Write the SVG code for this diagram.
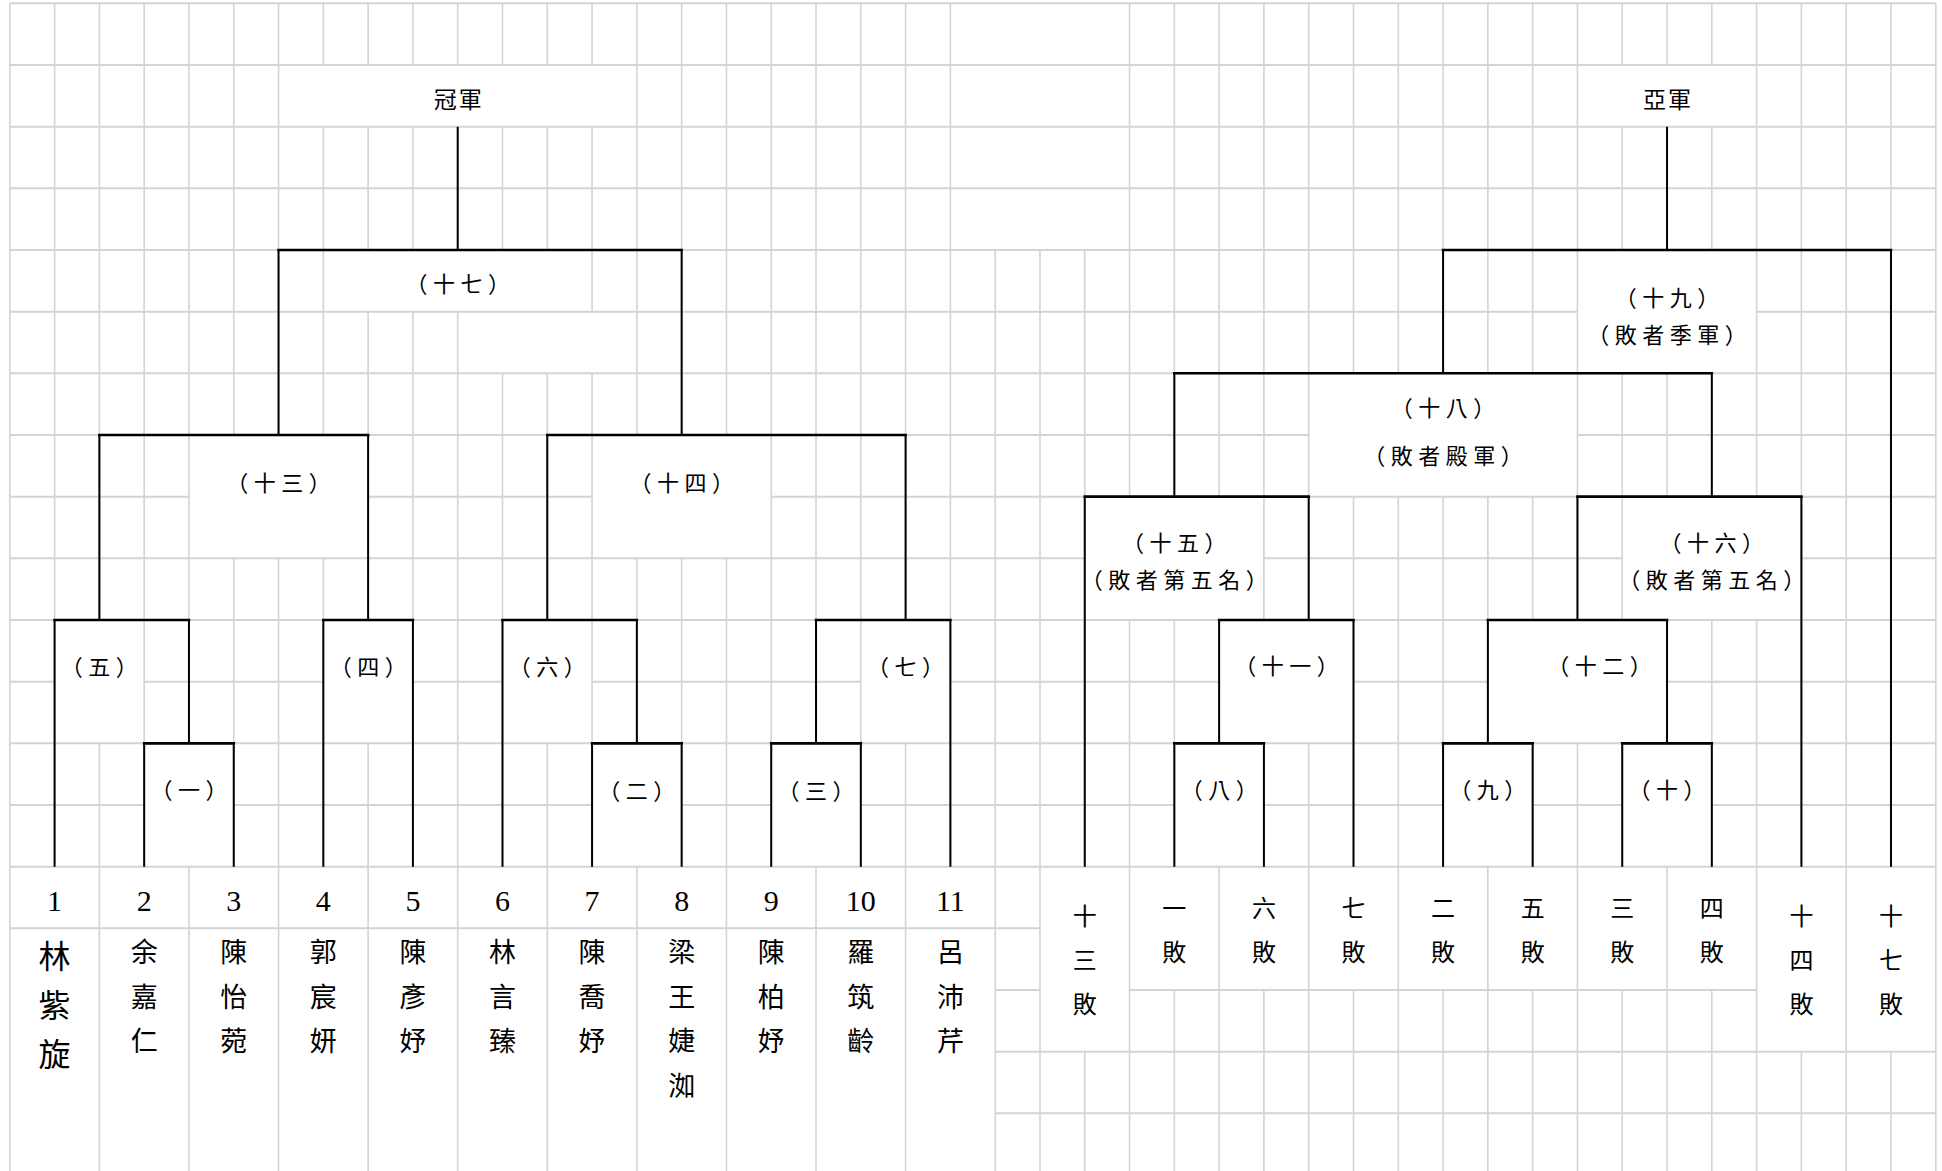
<svg xmlns="http://www.w3.org/2000/svg" width="1942" height="1171" viewBox="0 0 1942 1171">
<style>
.gv{stroke:#d4d4d4;stroke-width:1.6;fill:none}
.gh{stroke:#d4d4d4;stroke-width:2;fill:none}
.cv{stroke:#000;stroke-width:2;fill:none}
.ch{stroke:#000;stroke-width:2.6;fill:none;stroke-linecap:square}
text{font-family:'Liberation Serif','Noto Sans CJK TC',serif;text-anchor:middle;dominant-baseline:central;fill:#000}
.lab{font-size:22px;letter-spacing:5.5px}
.ttl{font-size:23px;letter-spacing:2px}
.num{font-size:30px}
.nm{font-size:27px}
.nmb{font-size:32px}
.ls{font-size:24px}
</style>
<rect width="1942" height="1171" fill="#fff"/>
<g id="grid" transform="translate(9.8 3.3) scale(44.79 61.67)">
<path class="gv" vector-effect="non-scaling-stroke" d="M0 0V19M1 0V14M2 0V10M2 12V19M3 0V14M4 0V12M4 14V19M5 0V7M5 9V14M6 0V7M6 9V19M7 0V1M7 2V7M7 9V14M8 0V1M8 2V4M8 5V10M8 12V19M9 0V1M9 2V4M9 5V14M10 0V1M10 2V4M10 5V19M11 0V1M11 2V4M11 6V14M12 0V1M12 2V4M12 6V10M12 12V19M13 0V1M13 2V5M13 6V14M14 0V7M14 9V12M14 14V19M15 0V7M15 9V14M16 0V7M16 9V19M17 0V14M18 0V12M18 14V19M19 0V14M20 0V10M20 12V19M21 0V14M22 4V19M23 4V19M24 4V14M24 17V19M25 0V8M25 10V19M26 0V8M26 10V14M26 16V19M27 0V8M27 10V12M27 14V19M28 0V10M28 12V14M28 16V19M29 0V10M29 12V19M30 0V6M30 8V14M30 16V19M31 0V6M31 8V19M32 0V6M32 8V14M32 16V19M33 0V6M33 8V12M33 14V19M34 0V6M34 8V10M34 12V14M34 16V19M35 0V10M35 12V19M36 0V1M36 2V4M36 6V10M36 12V14M36 16V19M37 0V1M37 2V4M37 6V8M37 10V12M37 14V19M38 0V1M38 2V4M38 6V8M38 10V14M38 16V19M39 0V8M39 10V19M40 0V14M40 17V19M41 0V19M42 0V14M42 17V19M43 0V19"/>
<path class="gh" vector-effect="non-scaling-stroke" d="M0 0H43M0 1H43M0 2H43M0 3H43M0 4H43M0 5H35M39 5H43M0 6H43M0 7H29M35 7H43M0 8H4M8 8H13M17 8H43M0 9H24M28 9H36M40 9H43M0 10H43M0 11H1M3 11H7M9 11H11M13 11H19M21 11H27M30 11H33M37 11H43M0 12H43M0 13H3M5 13H13M15 13H17M19 13H26M28 13H32M34 13H36M38 13H43M0 14H43M0 15H23M22 16H23M25 16H39M22 17H43M22 18H43"/>
</g>
<g id="connectors" transform="translate(9.8 3.3) scale(44.79 61.67)">
<path class="cv" vector-effect="non-scaling-stroke" d="M10 2V4M6 4V7M15 4V7M2 7V10M8 7V10M12 7V10M20 7V10M1 10V14M4 10V12M3 12V14M5 12V14M7 10V14M9 10V14M11 10V14M14 10V12M13 12V14M15 12V14M18 10V12M21 10V14M17 12V14M19 12V14M37 2V4M32 4V6M42 4V14M26 6V8M38 6V8M24 8V14M29 8V10M35 8V10M40 8V14M27 10V12M30 10V14M26 12V14M28 12V14M33 10V12M37 10V12M32 12V14M34 12V14M36 12V14M38 12V14"/>
<path class="ch" vector-effect="non-scaling-stroke" d="M6 4H15M2 7H8M12 7H20M1 10H4M7 10H9M11 10H14M18 10H21M3 12H5M13 12H15M17 12H19M32 4H42M26 6H38M24 8H29M35 8H40M27 10H30M33 10H37M26 12H28M32 12H34M36 12H38"/>
</g>
<g id="champion"><text class="ttl" x="458.7" y="100">冠軍</text></g>
<g id="runner-up"><text class="ttl" x="1668" y="100">亞軍</text></g>
<g id="m17"><text class="lab" x="460.4" y="284">（十七）</text></g>
<g id="m13"><text class="lab" x="281.3" y="483">（十三）</text></g>
<g id="m14"><text class="lab" x="684.4" y="483">（十四）</text></g>
<g id="m5"><text class="lab" x="102.1" y="667">（五）</text></g>
<g id="m4"><text class="lab" x="370.9" y="667">（四）</text></g>
<g id="m6"><text class="lab" x="550" y="667">（六）</text></g>
<g id="m7"><text class="lab" x="908.3" y="667">（七）</text></g>
<g id="m1"><text class="lab" x="191.7" y="790">（一）</text></g>
<g id="m2"><text class="lab" x="639.6" y="791">（二）</text></g>
<g id="m3"><text class="lab" x="818.8" y="791">（三）</text></g>
<g id="m19"><text class="lab" x="1669.8" y="298">（十九）</text><text class="lab" x="1669.8" y="335">（敗者季軍）</text></g>
<g id="m18"><text class="lab" x="1445.8" y="408">（十八）</text><text class="lab" x="1445.8" y="456">（敗者殿軍）</text></g>
<g id="m15"><text class="lab" x="1177.1" y="543">（十五）</text><text class="lab" x="1177.1" y="580">（敗者第五名）</text></g>
<g id="m16"><text class="lab" x="1714.6" y="543">（十六）</text><text class="lab" x="1714.6" y="580">（敗者第五名）</text></g>
<g id="m11"><text class="lab" x="1289.2" y="666">（十一）</text></g>
<g id="m12"><text class="lab" x="1602.2" y="666">（十二）</text></g>
<g id="m8"><text class="lab" x="1221.9" y="790">（八）</text></g>
<g id="m9"><text class="lab" x="1490.6" y="790">（九）</text></g>
<g id="m10"><text class="lab" x="1669.8" y="790">（十）</text></g>
<g id="p1"><text class="num" x="54.59" y="900">1</text><text class="nmb"><tspan x="54.59" y="957">林</tspan><tspan x="54.59" y="1006">紫</tspan><tspan x="54.59" y="1055">旋</tspan></text></g>
<g id="p2"><text class="num" x="144.17" y="900">2</text><text class="nm"><tspan x="144.17" y="953">余</tspan><tspan x="144.17" y="997.5">嘉</tspan><tspan x="144.17" y="1042">仁</tspan></text></g>
<g id="p3"><text class="num" x="233.75" y="900">3</text><text class="nm"><tspan x="233.75" y="953">陳</tspan><tspan x="233.75" y="997.5">怡</tspan><tspan x="233.75" y="1042">菀</tspan></text></g>
<g id="p4"><text class="num" x="323.33" y="900">4</text><text class="nm"><tspan x="323.33" y="953">郭</tspan><tspan x="323.33" y="997.5">宸</tspan><tspan x="323.33" y="1042">妍</tspan></text></g>
<g id="p5"><text class="num" x="412.91" y="900">5</text><text class="nm"><tspan x="412.91" y="953">陳</tspan><tspan x="412.91" y="997.5">彥</tspan><tspan x="412.91" y="1042">妤</tspan></text></g>
<g id="p6"><text class="num" x="502.49" y="900">6</text><text class="nm"><tspan x="502.49" y="953">林</tspan><tspan x="502.49" y="997.5">言</tspan><tspan x="502.49" y="1042">臻</tspan></text></g>
<g id="p7"><text class="num" x="592.07" y="900">7</text><text class="nm"><tspan x="592.07" y="953">陳</tspan><tspan x="592.07" y="997.5">喬</tspan><tspan x="592.07" y="1042">妤</tspan></text></g>
<g id="p8"><text class="num" x="681.65" y="900">8</text><text class="nm"><tspan x="681.65" y="953">梁</tspan><tspan x="681.65" y="997.5">王</tspan><tspan x="681.65" y="1042">婕</tspan><tspan x="681.65" y="1086.5">洳</tspan></text></g>
<g id="p9"><text class="num" x="771.23" y="900">9</text><text class="nm"><tspan x="771.23" y="953">陳</tspan><tspan x="771.23" y="997.5">柏</tspan><tspan x="771.23" y="1042">妤</tspan></text></g>
<g id="p10"><text class="num" x="860.81" y="900">10</text><text class="nm"><tspan x="860.81" y="953">羅</tspan><tspan x="860.81" y="997.5">筑</tspan><tspan x="860.81" y="1042">齡</tspan></text></g>
<g id="p11"><text class="num" x="950.39" y="900">11</text><text class="nm"><tspan x="950.39" y="953">呂</tspan><tspan x="950.39" y="997.5">沛</tspan><tspan x="950.39" y="1042">芹</tspan></text></g>
<g id="l13"><text class="ls"><tspan x="1084.76" y="917">十</tspan><tspan x="1084.76" y="961">三</tspan><tspan x="1084.76" y="1005">敗</tspan></text></g>
<g id="l1"><text class="ls"><tspan x="1174.34" y="909">一</tspan><tspan x="1174.34" y="953">敗</tspan></text></g>
<g id="l6"><text class="ls"><tspan x="1263.92" y="909">六</tspan><tspan x="1263.92" y="953">敗</tspan></text></g>
<g id="l7"><text class="ls"><tspan x="1353.5" y="909">七</tspan><tspan x="1353.5" y="953">敗</tspan></text></g>
<g id="l2"><text class="ls"><tspan x="1443.08" y="909">二</tspan><tspan x="1443.08" y="953">敗</tspan></text></g>
<g id="l5"><text class="ls"><tspan x="1532.66" y="909">五</tspan><tspan x="1532.66" y="953">敗</tspan></text></g>
<g id="l3"><text class="ls"><tspan x="1622.24" y="909">三</tspan><tspan x="1622.24" y="953">敗</tspan></text></g>
<g id="l4"><text class="ls"><tspan x="1711.82" y="909">四</tspan><tspan x="1711.82" y="953">敗</tspan></text></g>
<g id="l14"><text class="ls"><tspan x="1801.4" y="917">十</tspan><tspan x="1801.4" y="961">四</tspan><tspan x="1801.4" y="1005">敗</tspan></text></g>
<g id="l17"><text class="ls"><tspan x="1890.98" y="917">十</tspan><tspan x="1890.98" y="961">七</tspan><tspan x="1890.98" y="1005">敗</tspan></text></g>
</svg>
